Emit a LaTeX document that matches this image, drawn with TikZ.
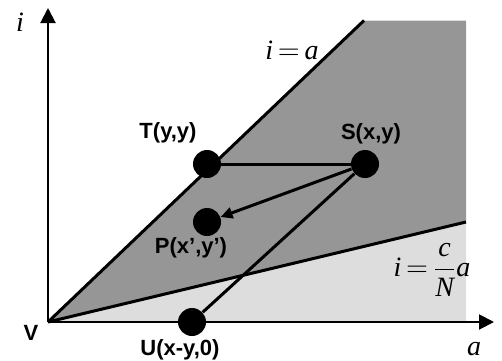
\documentclass[tikz,border=0pt]{standalone}
\usepackage{amsmath}
\usepackage{fontspec}
\setmainfont{Liberation Serif}
\setsansfont{Liberation Sans}
\usepackage{tikz}
\usetikzlibrary{arrows.meta}
\definecolor{ink}{HTML}{000000}
\definecolor{dgray}{HTML}{969696}
\definecolor{lgray}{HTML}{DDDDDD}
\newcommand{\lb}{\sffamily\bfseries\fontsize{11}{13}\selectfont}
\newcommand{\mv}[1]{\textit{#1}}
\newcommand{\eq}{\,{=}\,}

\begin{document}
\begin{tikzpicture}[
  x=0.5pt, y=0.5pt,
  every node/.style={align=center},
  vtx/.style={circle, fill=ink, inner sep=0pt, minimum size=14pt},
  lbl/.style={inner sep=0pt, font=\lb},
  eqn/.style={inner sep=0pt, font=\fontsize{14}{16}\selectfont},
  thk/.style={line width=1.5pt, draw=ink},
  axis/.style={line width=1pt, draw=ink, -{Triangle[length=7.5pt, width=7.5pt]}},
  parr/.style={line width=1.5pt, draw=ink, -{Triangle[length=6pt, width=5.5pt]}},
]
\useasboundingbox (0,0) rectangle (502,360);
% region corners
\coordinate (V) at (48,38);
\coordinate (top) at (364,339.5);
\coordinate (tr) at (466,339.5);
\coordinate (lo) at (466,138);
\coordinate (br) at (466,38);
\coordinate (ytip) at (48,352);
\coordinate (xtip) at (494,38);
% shaded areas
\fill[dgray] (V) -- (top) -- (tr) -- (lo) -- cycle;
\fill[lgray] (V) -- (lo) -- (br) -- cycle;
\draw[thk] (V) -- (top);
\draw[thk] (V) -- (lo);
\draw[axis] (V) -- (ytip);
\draw[axis] (V) -- (xtip);
% points
\node[vtx] (T) at (207,196) {};
\node[vtx] (S) at (365,196) {};
\node[vtx] (P) at (207,138) {};
\node[vtx] (U) at (192,38) {};
\draw[thk] (T) -- (S);
\draw[thk] (S) -- (U);
\draw[parr] (S) -- (P);
% labels
\node[lbl] (tlab) at (168,227) {T(y,y)};
\node[lbl] (slab) at (371,226) {S(x,y)};
\node[lbl] (plab) at (191,112) {P(x’,y’)};
\node[lbl] (ulab) at (180,10) {U(x-y,0)};
\node[lbl] (vlab) at (31,27) {V};
\node[eqn] (ilab) at (20,338) {\mv{i}};
\node[eqn] (alab) at (474,11) {\mv{a}};
\node[eqn] (diag) at (292,310) {$\mv{i}\eq\mv{a}$};
\node[eqn] (slope) at (432,90) {$\mv{i}\eq\dfrac{\mv{c}}{\mv{N}}\mv{a}$};
\end{tikzpicture}
\end{document}
